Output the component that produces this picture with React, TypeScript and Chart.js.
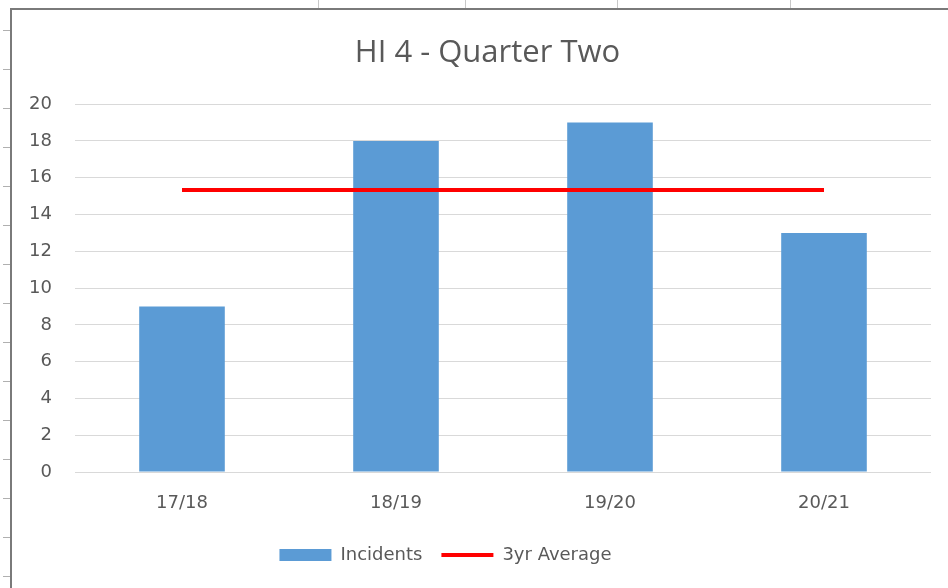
import React, { useEffect, useRef } from "react";
import { Chart, registerables } from "chart.js";

Chart.register(...registerables);

const categories = ["17/18", "18/19", "19/20", "20/21"];
const incidents = [9, 18, 19, 13];
const threeYearAverage = [15.33, 15.33, 15.33, 15.33];
const chartTitle = "HI 4 - Quarter Two";
const seriesNames = ["Incidents", "3yr Average"];

const topTickXs = [318, 465, 617, 790];
const leftTickYs = [30, 69, 108, 147, 186, 225, 264, 303, 342, 381, 420, 459, 498, 537, 576];

const TITLE_FONT = "'Open Sans', 'DejaVu Sans', sans-serif";
const FONT = "'DejaVu Sans', 'Open Sans', sans-serif";

// small layout nudge: shift title right and legend left like the Excel original
const nudgePlugin = {
  id: "nudge",
  afterLayout(chart: any) {
    const t = chart.titleBlock;
    if (t) {
      t.left += 22;
      t.right += 22;
    }
    const l = chart.legend;
    if (l) {
      l.left -= 20;
      l.right -= 20;
    }
  },
};

export default function App() {
  const ref = useRef<HTMLCanvasElement | null>(null);

  useEffect(() => {
    if (!ref.current) return;
    const chart = new Chart(ref.current, {
      type: "bar",
      data: {
        labels: categories,
        datasets: [
          {
            type: "bar",
            label: seriesNames[0],
            data: incidents,
            backgroundColor: "#5b9bd5",
            borderWidth: 0,
            categoryPercentage: 1,
            barPercentage: 0.4,
            pointStyle: "rect",
            order: 1,
          } as any,
          {
            type: "line",
            label: seriesNames[1],
            data: threeYearAverage,
            borderColor: "#ff0000",
            backgroundColor: "#ff0000",
            borderWidth: 4,
            pointRadius: 0,
            pointStyle: "line",
            fill: false,
            order: 0,
          } as any,
        ],
      },
      plugins: [nudgePlugin],
      options: {
        responsive: false,
        animation: false,
        devicePixelRatio: 1,
        layout: { padding: { top: 20, left: 0, right: 17, bottom: 14 } },
        plugins: {
          title: {
            display: true,
            text: chartTitle,
            color: "#595959",
            font: { family: TITLE_FONT, size: 31, weight: "normal" as any, lineHeight: 1.2 },
            padding: { top: 15, bottom: 32 },
          },
          legend: {
            position: "bottom",
            labels: {
              usePointStyle: true,
              pointStyleWidth: 52,
              boxWidth: 52,
              boxHeight: 12,
              padding: 19,
              color: "#595959",
              font: { family: FONT, size: 18 },
              sort: (a: any, b: any) => a.datasetIndex - b.datasetIndex,
            },
          },
          tooltip: { enabled: false },
        },
        scales: {
          x: {
            grid: { display: false, drawTicks: false },
            border: { display: false },
            ticks: { color: "#595959", font: { family: FONT, size: 18 }, padding: 21 },
            afterFit: (s: any) => {
              s.height = 55;
            },
          },
          y: {
            min: 0,
            max: 20,
            ticks: {
              stepSize: 2,
              color: "#595959",
              font: { family: FONT, size: 18 },
              padding: 23,
            },
            grid: { color: "#d9d9d9", lineWidth: 1, drawTicks: false },
            border: { display: false },
            afterFit: (s: any) => {
              s.width = 75;
            },
          },
        },
      },
    });
    return () => chart.destroy();
  }, []);

  return (
    <div style={{ position: "fixed", left: 0, top: 0, width: 948, height: 588, background: "#ffffff", overflow: "hidden" }}>
      <canvas ref={ref} width={948} height={588} style={{ position: "absolute", left: 0, top: 0, width: 948, height: 588 }} />
      <div style={{ position: "absolute", left: 10, top: 8, width: 938, height: 2, background: "#7a7a7a" }} />
      <div style={{ position: "absolute", left: 10, top: 8, width: 2, height: 580, background: "#7a7a7a" }} />
      {topTickXs.map((x) => (
        <div key={"t" + x} style={{ position: "absolute", left: x, top: 0, width: 1, height: 8, background: "#c8c8c8" }} />
      ))}
      {leftTickYs.map((y) => (
        <div key={"l" + y} style={{ position: "absolute", left: 3, top: y, width: 7, height: 1, background: "#b0b0b0" }} />
      ))}
    </div>
  );
}
